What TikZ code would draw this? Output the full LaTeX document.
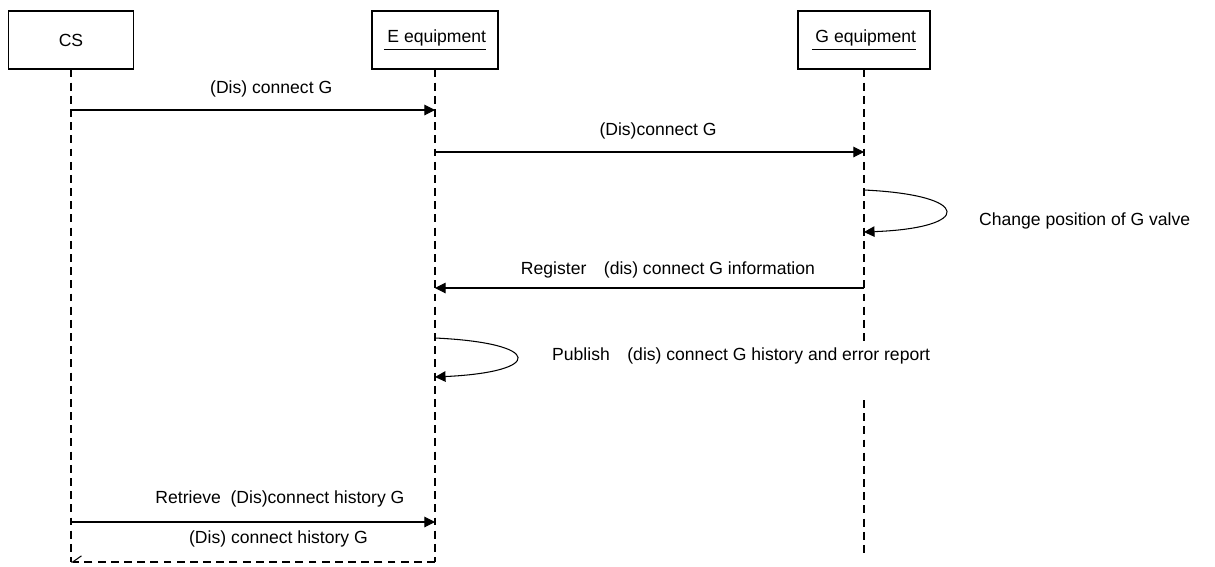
\documentclass[tikz,border=0pt]{standalone}
\usepackage{fontspec}
\setmainfont{Liberation Sans}
\usetikzlibrary{arrows.meta}

\begin{document}
\begin{tikzpicture}[x=0.02cm, y=-0.02cm, font=\fontsize{10}{12}\selectfont,
    actor/.style={draw, line width=0.6pt, minimum height=1.16cm},
    lifeline/.style={line width=1.1pt, dash pattern=on 4.5pt off 3pt},
    msg/.style={line width=0.6pt, -{Triangle[length=6pt,width=6pt]}},
    reply/.style={lifeline, -{Straight Barb[right,length=5pt,width=7pt,line width=0.6pt]}}]

    \useasboundingbox (0,0) rectangle (1215,566);

    \node[actor, minimum width=2.5cm] (CS) at (71,40) {CS};
    \node[actor, minimum width=2.52cm] (E) at (435,40) {\underline{\hspace{2pt}E equipment}};
    \node[actor, minimum width=2.64cm] (G) at (864,40) {\underline{\hspace{2pt}G equipment}};

    % lifelines
    \coordinate (CSend) at (71,562);
    \coordinate (Eend) at (435,562);
    \coordinate (Gbreak) at (864,345);
    \coordinate (Gresume) at (864,400);
    \coordinate (Gend) at (864,556);
    \draw[lifeline] (CS.south) -- (CSend);
    \draw[lifeline] (E.south) -- (Eend);
    \draw[lifeline] (G.south) -- (Gbreak);
    \draw[lifeline] (Gresume) -- (Gend);

    % message points
    \coordinate (cs1) at (71,110);  \coordinate (e1) at (435,110);
    \coordinate (e2) at (435,152);  \coordinate (g2) at (864,152);
    \coordinate (g3a) at (864,190); \coordinate (g3b) at (864,232);
    \coordinate (g4) at (864,288);  \coordinate (e4) at (435,288);
    \coordinate (e5a) at (435,338); \coordinate (e5b) at (435,377);
    \coordinate (cs6) at (71,522);  \coordinate (e6) at (435,522);

    \draw[msg] (cs1) -- node[pos=.55, yshift=12pt] (m1) {(Dis) connect G} (e1);
    \draw[msg] (e2) -- node[pos=.52, yshift=12pt] (m2) {(Dis)connect G} (g2);
    \draw[msg] (g3a) .. controls (973,195) and (973,228) .. (g3b);
    \node[anchor=west] (m3) at (973,221) {Change position of G valve};
    \draw[msg] (g4) -- node[pos=.457, yshift=10pt] (m4) {Register\quad(dis) connect G information} (e4);
    \draw[msg] (e5a) .. controls (544,343) and (544,372) .. (e5b);
    \node[anchor=west] (m5) at (546,356) {Publish\quad(dis) connect G history and error report};
    \draw[msg] (cs6) -- node[pos=.574, yshift=13pt] (m6) {Retrieve\ \ (Dis)connect history G} (e6);
    \draw[reply] (Eend) -- node[pos=.43, yshift=13pt] (m7) {(Dis) connect history G} (CSend);

\end{tikzpicture}
\end{document}
